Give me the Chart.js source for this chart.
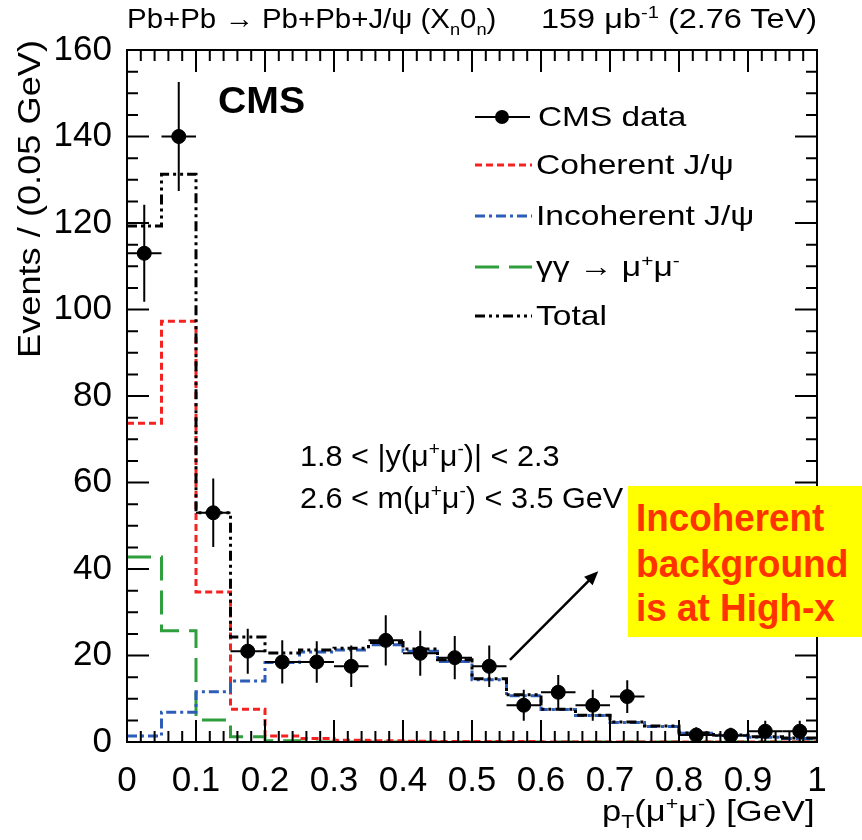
<!DOCTYPE html>
<html>
<head>
<meta charset="utf-8">
<script src="https://cdn.jsdelivr.net/npm/chart.js@4.4.1/dist/chart.umd.min.js"></script>
<style>
body { margin: 0; background: #fff; }
#wrap { position: relative; width: 862px; height: 840px; font-family: 'Liberation Sans', Arial, sans-serif; color: #000; overflow: hidden; }
#wrap canvas { position: absolute; left: 0; top: 0; }
.t { position: absolute; white-space: nowrap; line-height: 1; transform-origin: 0 0; }
.t sup, .t sub { font-size: 62%; line-height: 0; }
#note { position: absolute; left: 628px; top: 486px; width: 240px; height: 151px; background: #ffff00; }
.nt { color: #ff3300; font-weight: bold; font-size: 38px; }
</style>
</head>
<body>
<div id="wrap">
  <canvas id="chart" width="862" height="840"></canvas>

  <div class="t fit" data-w="369" style="left:127px;top:5px;font-size:28px">Pb+Pb &rarr; Pb+Pb+J/&psi; (X<sub>n</sub>0<sub>n</sub>)</div>
  <div class="t fit right" data-w="276" data-r="817" style="top:5px;font-size:28px">159 &mu;b<sup>-1</sup> (2.76 TeV)</div>

  <div class="t fit" data-w="87" style="left:218px;top:83px;font-size:36px;font-weight:bold">CMS</div>

  <div class="t fit" data-w="149" style="left:538px;top:103px;font-size:28px">CMS data</div>
  <div class="t sx" style="left:536px;top:151px;font-size:28px">Coherent J/&psi;</div>
  <div class="t sx" style="left:536px;top:202px;font-size:28px">Incoherent J/&psi;</div>
  <div class="t sx" style="left:536px;top:253px;font-size:28px">&gamma;&gamma; &rarr; &mu;<sup>+</sup>&mu;<sup>-</sup></div>
  <div class="t sx" style="left:536px;top:302px;font-size:28px">Total</div>

  <div class="t fit" data-w="260" style="left:300px;top:442px;font-size:29px">1.8 &lt; |y(&mu;<sup>+</sup>&mu;<sup>-</sup>)| &lt; 2.3</div>
  <div class="t fit" data-w="323" style="left:300px;top:484px;font-size:29px">2.6 &lt; m(&mu;<sup>+</sup>&mu;<sup>-</sup>) &lt; 3.5 GeV</div>

  <div id="note"></div>
  <div class="t nt fit" data-w="188" style="left:636px;top:499px">Incoherent</div>
  <div class="t nt fit" data-w="212" style="left:636px;top:545px">background</div>
  <div class="t nt fit" data-w="199" style="left:636px;top:589px">is at High-x</div>

  <div class="t fit right" data-w="213" data-r="815" style="top:797px;font-size:29px">p<sub>T</sub>(&mu;<sup>+</sup>&mu;<sup>-</sup>) [GeV]</div>
  <div class="t" id="ytitle" style="left:13px;top:358px;font-size:32px">Events / (0.05 GeV)</div>
</div>

<script>
// bins of 0.05 GeV, value per bin
const binLow = [0, 0.05, 0.1, 0.15, 0.2, 0.25, 0.3, 0.35, 0.4, 0.45, 0.5, 0.55, 0.6, 0.65, 0.7, 0.75, 0.8, 0.85, 0.9, 0.95];
const binW = 0.05;

const dataCounts = [113, 140, 53, 21, 18.5, 18.5, 17.5, 23.5, 20.5, 19.5, 17.5, 8.5, 11.5, 8.5, 10.5, null, 1.6, 1.5, 2.5, 2.5];
const dataErrors = [11.2, 12.6, 7.9, 5.2, 5, 4.8, 4.8, 5.8, 5.2, 5, 4.8, 3.6, 4, 3.6, 3.8, null, 1.8, 1.8, 2.4, 2.4];

const totalFit   = [119.3, 131.3, 53, 24.3, 20.6, 21.3, 21.7, 23, 21.5, 19, 14.6, 10.9, 7.6, 6.2, 4.6, 3.7, 2.1, 1.6, 1.2, 0.9];
const incoherent = [1.4, 6.9, 11.6, 14.1, 18.4, 20.8, 21.3, 22.5, 21, 18.6, 14.4, 10.7, 7.5, 6.1, 4.5, 3.6, 2, 1.5, 1.1, 0.8];
const coherent   = [73.7, 97.3, 34.7, 7.6, 1.4, 0.8, 0.4, 0.3, 0.2, 0.1, 0.1, 0.1, 0, 0, 0, 0, 0, 0, 0, 0];
const gammaGamma = [42.8, 25.7, 5.1, 1.2, 0.3, 0, 0, 0, 0, 0, 0, 0, 0, 0, 0, 0, 0, 0, 0, 0];

const xTicks = { min: 0, max: 1, step: 0.1, minor: 0.02 };
const yTicks = { min: 0, max: 160, step: 20, minor: 5 };

// arrow of the note, in data units
const arrowFrom = [0.555, 19];
const arrowTo = [0.683, 39.5];

const FONT = "'Liberation Sans', Arial, sans-serif";

function stepData(vals) {
    const pts = binLow.map((x, i) => ({ x: x, y: vals[i] }));
    pts.push({ x: binLow[binLow.length - 1] + binW, y: vals[vals.length - 1] });
    return pts;
}

// chart.js 'before' keeps the previous value until the next edge
function histo(label, vals, color, dash) {
    return {
        type: 'line', label: label, data: stepData(vals), stepped: 'before',
        borderColor: color, borderWidth: 3, borderDash: dash,
        pointRadius: 0, fill: false, tension: 0
    };
}

const points = [];
dataCounts.forEach((v, i) => { if (v !== null) points.push({ x: binLow[i] + binW / 2, y: v }); });

const datasets = [
    { type: 'scatter', label: 'CMS data', data: points, pointRadius: 7, pointBackgroundColor: '#000', pointBorderColor: '#000', showLine: false },
    histo('Total', totalFit, '#000000', [10, 4, 3, 4, 3, 4]),
    histo('Incoherent J/ψ', incoherent, '#2e5db8', [10, 4, 3, 4]),
    histo('Coherent J/ψ', coherent, '#f52222', [7, 4]),
    histo('γγ → μ+μ-', gammaGamma, '#2f9e3c', [24, 10])
];

// error bars on the data points
const errorBars = {
    id: 'errorBars',
    afterDatasetsDraw(chart) {
        const { ctx, scales: { x, y }, chartArea } = chart;
        ctx.save();
        ctx.beginPath();
        ctx.rect(chartArea.left, chartArea.top, chartArea.width, chartArea.height);
        ctx.clip();
        ctx.strokeStyle = '#000';
        ctx.lineWidth = 2;
        dataCounts.forEach((v, i) => {
            if (v === null) return;
            const cx = x.getPixelForValue(binLow[i] + binW / 2);
            const cy = y.getPixelForValue(v);
            ctx.beginPath();
            ctx.moveTo(x.getPixelForValue(binLow[i]), cy);
            ctx.lineTo(x.getPixelForValue(binLow[i] + binW), cy);
            ctx.moveTo(cx, y.getPixelForValue(v - dataErrors[i]));
            ctx.lineTo(cx, y.getPixelForValue(v + dataErrors[i]));
            ctx.stroke();
        });
        ctx.restore();
    }
};

// ROOT-like frame with inward ticks on all four sides, legend samples and the arrow
const frame = {
    id: 'frame',
    afterDraw(chart) {
        const { ctx, scales: { x, y }, chartArea: a } = chart;
        ctx.save();
        ctx.strokeStyle = '#000';
        ctx.lineWidth = 2;
        ctx.strokeRect(a.left, a.top, a.width, a.height);
        ctx.beginPath();
        const nx = Math.round((xTicks.max - xTicks.min) / xTicks.minor);
        for (let i = 0; i <= nx; i++) {
            const px = x.getPixelForValue(xTicks.min + i * xTicks.minor);
            const len = i % 5 === 0 ? 22 : 11;
            ctx.moveTo(px, a.bottom); ctx.lineTo(px, a.bottom - len);
            ctx.moveTo(px, a.top); ctx.lineTo(px, a.top + len);
        }
        const ny = Math.round((yTicks.max - yTicks.min) / yTicks.minor);
        for (let i = 0; i <= ny; i++) {
            const py = y.getPixelForValue(yTicks.min + i * yTicks.minor);
            const len = i % 4 === 0 ? 22 : 11;
            ctx.moveTo(a.left, py); ctx.lineTo(a.left + len, py);
            ctx.moveTo(a.right, py); ctx.lineTo(a.right - len, py);
        }
        ctx.stroke();

        // legend samples
        const rows = [117, 165, 216, 267, 316];
        const order = ['CMS data', 'Coherent J/ψ', 'Incoherent J/ψ', 'γγ → μ+μ-', 'Total'];
        order.forEach((lab, k) => {
            const ds = chart.data.datasets.find(d => d.label === lab);
            const py = rows[k];
            ctx.beginPath();
            if (lab === 'CMS data') {
                ctx.setLineDash([]);
                ctx.strokeStyle = '#000'; ctx.lineWidth = 2;
                ctx.moveTo(475, py); ctx.lineTo(530, py); ctx.stroke();
                ctx.beginPath(); ctx.fillStyle = '#000';
                ctx.arc(502, py, 7, 0, Math.PI * 2); ctx.fill();
            } else {
                ctx.setLineDash(ds.borderDash);
                ctx.strokeStyle = ds.borderColor; ctx.lineWidth = 3;
                ctx.moveTo(475, py); ctx.lineTo(532, py); ctx.stroke();
            }
        });
        ctx.setLineDash([]);

        // arrow
        const x0 = x.getPixelForValue(arrowFrom[0]), y0 = y.getPixelForValue(arrowFrom[1]);
        const x1 = x.getPixelForValue(arrowTo[0]), y1 = y.getPixelForValue(arrowTo[1]);
        const ang = Math.atan2(y1 - y0, x1 - x0);
        ctx.strokeStyle = '#000'; ctx.fillStyle = '#000'; ctx.lineWidth = 2.5;
        ctx.beginPath(); ctx.moveTo(x0, y0); ctx.lineTo(x1 - 8 * Math.cos(ang), y1 - 8 * Math.sin(ang)); ctx.stroke();
        ctx.beginPath();
        ctx.moveTo(x1, y1);
        ctx.lineTo(x1 - 14 * Math.cos(ang) + 6 * Math.sin(ang), y1 - 14 * Math.sin(ang) - 6 * Math.cos(ang));
        ctx.lineTo(x1 - 14 * Math.cos(ang) - 6 * Math.sin(ang), y1 - 14 * Math.sin(ang) + 6 * Math.cos(ang));
        ctx.closePath(); ctx.fill();
        ctx.restore();
    }
};

function fmtX(v) {
    const r = Math.round(v * 10) / 10;
    return r === 0 ? '0' : r === 1 ? '1' : r.toFixed(1);
}

new Chart(document.getElementById('chart'), {
    type: 'scatter',
    data: { datasets: datasets },
    options: {
        responsive: false,
        animation: false,
        layout: { padding: { left: 0, top: 50, right: 45, bottom: 0 } },
        plugins: { legend: { display: false }, tooltip: { enabled: false } },
        scales: {
            x: {
                type: 'linear', min: xTicks.min, max: xTicks.max,
                grid: { display: false }, border: { display: false },
                ticks: { stepSize: xTicks.step, autoSkip: false, maxRotation: 0, padding: 10, color: '#000', font: { family: FONT, size: 35 }, callback: fmtX },
                afterFit: s => { s.height = 98; }
            },
            y: {
                type: 'linear', min: yTicks.min, max: yTicks.max,
                grid: { display: false }, border: { display: false },
                ticks: { stepSize: yTicks.step, padding: 7, color: '#000', font: { family: FONT, size: 35 } },
                afterFit: s => { s.width = 127; }
            }
        }
    },
    plugins: [errorBars, frame]
});

// stretch the text boxes to the widths seen in the figure
document.querySelectorAll('.fit').forEach(el => {
    const k = parseFloat(el.dataset.w) / el.offsetWidth;
    el.style.transform = 'scaleX(' + k + ')';
    if (el.classList.contains('right')) el.style.left = (parseFloat(el.dataset.r) - parseFloat(el.dataset.w)) + 'px';
});
document.querySelectorAll('.sx').forEach(el => { el.style.transform = 'scaleX(1.2)'; });
const yt = document.getElementById('ytitle');
const ky = 318 / yt.offsetWidth;
yt.style.transform = 'rotate(-90deg) scaleX(' + ky + ')';
</script>
</body>
</html>
